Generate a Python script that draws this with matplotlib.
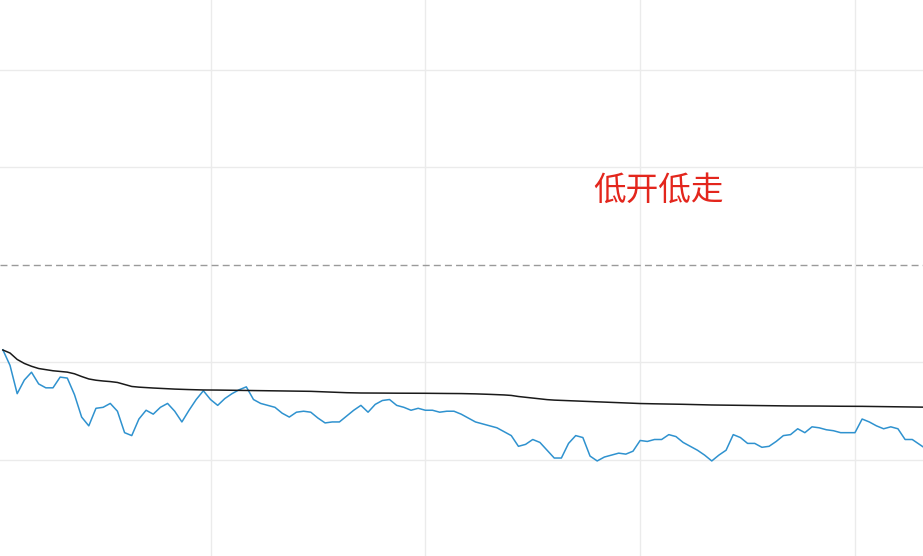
import matplotlib.pyplot as plt

plt.rcParams['font.family'] = ['Noto Sans CJK SC', 'DejaVu Sans']

# change vs previous close, in percent, one point per minute
price = [
    -0.87, -1.03, -1.32, -1.18, -1.10, -1.22, -1.26, -1.26, -1.15, -1.16,
    -1.33, -1.56, -1.65, -1.47, -1.46, -1.42, -1.50, -1.72, -1.75, -1.58,
    -1.49, -1.53, -1.46, -1.42, -1.50, -1.61, -1.49, -1.38, -1.29, -1.38,
    -1.44, -1.37, -1.32, -1.28, -1.25, -1.38, -1.42, -1.44, -1.46, -1.52,
    -1.56, -1.51, -1.50, -1.51,
    -1.57, -1.62, -1.61, -1.61, -1.55, -1.49, -1.44, -1.51, -1.43, -1.39,
    -1.38, -1.44, -1.46, -1.49, -1.47, -1.49, -1.49, -1.51, -1.50, -1.50,
    -1.53, -1.57, -1.61, -1.63, -1.65, -1.67, -1.71, -1.75, -1.86, -1.84,
    -1.79, -1.82, -1.90, -1.98, -1.98, -1.83, -1.75, -1.77, -1.96, -2.01,
    -1.97, -1.95, -1.93, -1.94,
    -1.91, -1.80, -1.81, -1.79, -1.79, -1.74, -1.76, -1.82, -1.86, -1.90,
    -1.95, -2.01, -1.95, -1.90, -1.74, -1.77, -1.83, -1.83, -1.87, -1.86,
    -1.81, -1.75, -1.74, -1.68, -1.72, -1.66, -1.67, -1.69, -1.70, -1.72,
    -1.72, -1.72, -1.58, -1.61, -1.65, -1.68, -1.66, -1.68, -1.79, -1.79,
    -1.84, -1.89,
]

# average price line, same units
avg_price = [
    -0.872, -0.903, -0.969, -1.010, -1.039, -1.062, -1.074, -1.085, -1.092, -1.099,
    -1.116, -1.144, -1.169, -1.182, -1.190, -1.196, -1.205, -1.226, -1.246, -1.253,
    -1.258, -1.262, -1.266, -1.270, -1.273, -1.276, -1.278, -1.280, -1.282, -1.282,
    -1.283, -1.284, -1.285, -1.285, -1.286, -1.287, -1.288, -1.289, -1.290, -1.291,
    -1.292, -1.293, -1.295, -1.296, -1.299, -1.302, -1.305, -1.308, -1.310, -1.312,
    -1.313, -1.313, -1.314, -1.314, -1.315, -1.315, -1.315, -1.316, -1.316, -1.316,
    -1.317, -1.317, -1.318, -1.318, -1.319, -1.320, -1.322, -1.324, -1.327, -1.330,
    -1.333, -1.338, -1.349, -1.357, -1.366, -1.374, -1.381, -1.386, -1.389, -1.392,
    -1.395, -1.398, -1.401, -1.404, -1.407, -1.410, -1.413, -1.416, -1.419, -1.421,
    -1.423, -1.424, -1.425, -1.426, -1.427, -1.429, -1.431, -1.433, -1.435, -1.436,
    -1.437, -1.438, -1.439, -1.440, -1.441, -1.442, -1.444, -1.444, -1.445, -1.445,
    -1.446, -1.446, -1.447, -1.447, -1.447, -1.448, -1.448, -1.449, -1.449, -1.450,
    -1.450, -1.451, -1.452, -1.452, -1.453, -1.454, -1.455, -1.456, -1.457, -1.459,
]

minutes = list(range(1, len(price) + 1))
time_grid = [30, 60, 90, 120]
pct_grid = [2, 1, -1, -2]
label = '低开低走'

fig = plt.figure(figsize=(9.23, 5.56), dpi=100)
ax = fig.add_axes([0, 0, 1, 1])

for t in time_grid:
    ax.axvline(t, color='#ebebeb', lw=1, zorder=0)
for p in pct_grid:
    ax.axhline(p, color='#ebebeb', lw=1, zorder=0)
ax.axhline(0, color='#9a9a9a', lw=1, ls=(0, (5, 3)), zorder=1)

ax.plot(minutes, avg_price, color='#1a1a1a', lw=1.1, zorder=3)
ax.plot(minutes, price, color='#2f92cf', lw=1.1, zorder=2)

ax.text(92.5, 0.76, label, color='#e3261d', fontsize=23.5,
        ha='center', va='center')

ax.set_xlim(0.6, 129.5)
ax.set_ylim(-2.985, 2.718)
ax.axis('off')

fig.savefig('out.png', dpi=100)
